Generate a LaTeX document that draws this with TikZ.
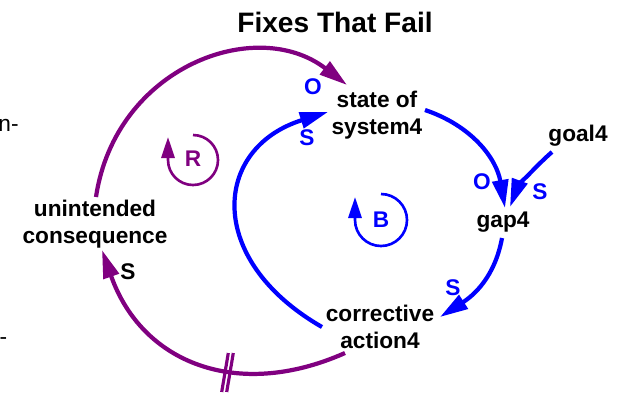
\documentclass[tikz,border=0pt]{standalone}
\usepackage{fontspec}
\setmainfont{Liberation Sans}
\usetikzlibrary{arrows.meta,calc}
\definecolor{cldblue}{RGB}{0,0,255}
\definecolor{cldpurple}{RGB}{128,0,128}
\tikzset{
  lbl/.style={font=\fontsize{12.9}{15.4}\selectfont\bfseries, align=center, inner sep=0pt},
  pol/.style={font=\fontsize{12.9}{15.4}\selectfont\bfseries, inner sep=0pt},
  frag/.style={font=\fontsize{12.9}{15.4}\selectfont, inner sep=0pt, anchor=base east},
  link/.style={line width=2.4pt, -{Triangle[length=16pt,width=9pt]}},
  loopmark/.style={line width=1.5pt, -{Triangle[length=12pt,width=7.5pt]}},
  hatchline/.style={line width=1.8pt, cldpurple},
}
\begin{document}
\begin{tikzpicture}[x=0.02cm,y=-0.02cm]
\useasboundingbox (0,0) rectangle (625,393);
% title
\node[font=\fontsize{16}{19}\selectfont\bfseries, inner sep=0pt] (title) at (335,22) {Fixes That Fail};
% variables
\node[lbl] (st) at (377,115) {state of\\system4};
\node[lbl] (gap) at (503,222) {gap4};
\node[lbl] (goal) at (578,136) {goal4};
\node[lbl] (ca) at (380,327) {corrective\\action4};
\node[lbl] (uc) at (95,224) {unintended\\consequence};
% cut-off fragments at left edge
\node[frag] (f1) at (19,131.5) {n-};
\node[frag] (f2) at (7.5,344.5) {-};
% balancing loop links
\draw[link, cldblue] ($(st)+(48,-5)$) .. controls +(47.5,16) and +(-8.5,-49) .. ($(gap)+(2,-14)$);
\draw[link, cldblue] ($(gap)+(-1,16)$) .. controls +(-7.2,39.2) and +(33.6,-21.6) .. ($(ca)+(60,-10)$);
\draw[link, cldblue] ($(ca)+(-58,0)$) .. controls +(-117.5,-67.5) and +(-115.2,36) .. ($(st)+(-49,-3)$);
\draw[link, cldblue] ($(goal)+(-26,16)$) .. controls +(-15.2,13) and +(7,-18.8) .. ($(gap)+(7,-15)$);
% reinforcing loop links
\draw[link, cldpurple] ($(uc)+(1,-27)$) .. controls +(19.5,-130) and +(-91,-70) .. ($(st)+(-30,-30)$);
\draw[link, cldpurple] ($(ca)+(-35,26)$) .. controls +(-108,48) and +(39.6,112.8) .. ($(uc)+(7,26)$);
% delay mark
\coordinate (hatch) at (227.5,372);
\draw[hatchline] ($(hatch)+(0.8,-19)$) -- ($(hatch)+(-5.8,20)$);
\draw[hatchline] ($(hatch)+(5.8,-19)$) -- ($(hatch)+(-0.8,20)$);
% polarity labels
\node[pol, text=cldblue] (p1) at (313,87) {O};
\node[pol, text=cldblue] (p2) at (307,138) {S};
\node[pol, text=cldblue] (p3) at (482,182) {O};
\node[pol, text=cldblue] (p4) at (453,288) {S};
\node[pol, text=cldblue] (p5) at (540,192) {S};
\node[pol, text=black] (p6) at (128,272) {S};
% loop markers
\node[pol, text=cldpurple] (R) at (193,159) {R};
\draw[loopmark, cldpurple] (193,135) arc[start angle=-90, end angle=180, radius=25] -- ++(0,-23);
\node[pol, text=cldblue] (B) at (381,220) {B};
\draw[loopmark, cldblue] (381,194) arc[start angle=-90, end angle=180, radius=26] -- ++(0,-23);
\end{tikzpicture}
\end{document}
